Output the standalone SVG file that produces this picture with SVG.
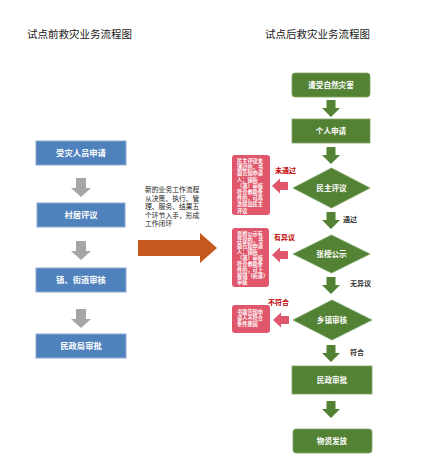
<svg xmlns="http://www.w3.org/2000/svg" xmlns:xlink="http://www.w3.org/1999/xlink" width="422" height="473" viewBox="0 0 422 473">
<style>
text{font-family:"Noto Sans CJK SC","Liberation Sans",sans-serif;}
.title{font-size:10.5px;fill:#1a1a1a;}
.blue{fill:#4F81BD;stroke:#8BAAD6;stroke-width:1;}
.bt{font-size:8.3px;font-weight:bold;fill:#fff;text-anchor:middle;}
.green{fill:#548235;stroke:#7FA463;stroke-width:0.8;}
.gt{font-size:7.6px;font-weight:bold;fill:#fff;text-anchor:middle;}
.callout{fill:#E0566B;}
.ct{font-size:10.4px;font-weight:bold;fill:#fff;}
.rl{font-size:7px;font-weight:bold;fill:#C00000;}
.dl{font-size:7px;font-weight:bold;fill:#333;}
.mt{font-size:6.8px;fill:#222;}
.garrow{fill:#A6A6A6;}
.grarrow{fill:#548235;}
.rarrow{fill:#E0566B;}
</style>
<defs>
<path id="gdown" d="M-5,0 H5 V10 H10 L0,19 L-10,10 H-5 Z"/>
<path id="grdown" d="M-4.5,0 H4.5 V8 H9 L0,17 L-9,8 H-4.5 Z"/>
<path id="rleft" d="M16,-4 V4 H8 V7.5 L0,0 L8,-7.5 V-4 Z"/>
</defs>

<text class="title" x="27" y="38">试点前救灾业务流程图</text>
<text class="title" x="265" y="38">试点后救灾业务流程图</text>

<g id="connectors">
  <use href="#gdown" class="garrow" x="81" y="178"/>
  <use href="#gdown" class="garrow" x="81" y="241"/>
  <use href="#gdown" class="garrow" x="81" y="309"/>
  <path d="M138,240 H200 V233 L217,248 L200,263 V256 H138 Z" fill="#C65A1E"/>
  <use href="#grdown" class="grarrow" x="331" y="100"/>
  <use href="#grdown" class="grarrow" x="331" y="147"/>
  <use href="#grdown" class="grarrow" x="331" y="212"/>
  <use href="#grdown" class="grarrow" x="331" y="277"/>
  <use href="#grdown" class="grarrow" x="331" y="345"/>
  <use href="#grdown" class="grarrow" x="331" y="401"/>
  <use href="#rleft" class="rarrow" x="272" y="186"/>
  <use href="#rleft" class="rarrow" x="272" y="255"/>
  <use href="#rleft" class="rarrow" x="273" y="320"/>
  <text class="dl" x="343" y="222">通过</text>
  <text class="dl" x="350" y="286">无异议</text>
  <text class="dl" x="350" y="355">符合</text>
  <text class="rl" x="275" y="173">未通过</text>
  <text class="rl" x="274" y="240">有异议</text>
  <text class="rl" x="268" y="305">不符合</text>
</g>

<g id="before-1"><rect class="blue" x="36" y="141" width="90" height="24"/><text class="bt" x="81" y="156">受灾人员申请</text></g>
<g id="before-2"><rect class="blue" x="37" y="203" width="88" height="24"/><text class="bt" x="81" y="218">村居评议</text></g>
<g id="before-3"><rect class="blue" x="36" y="268" width="90" height="24"/><text class="bt" x="81" y="283">镇、街道审核</text></g>
<g id="before-4"><rect class="blue" x="36" y="334" width="90" height="24"/><text class="bt" x="81" y="349">民政局审批</text></g>

<g id="note">
  <text class="mt" x="145" y="192">新的业务工作流程</text>
  <text class="mt" x="145" y="200.5">从决策、执行、管</text>
  <text class="mt" x="145" y="209">理、服务、结果五</text>
  <text class="mt" x="145" y="217.5">个环节入手，形成</text>
  <text class="mt" x="145" y="226">工作闭环</text>
</g>

<g id="after-1"><rect class="green" x="292" y="73" width="78" height="24" rx="3"/><text class="gt" x="331" y="88">遭受自然灾害</text></g>
<g id="after-2"><rect class="green" x="292" y="119" width="78" height="24"/><text class="gt" x="331" y="134">个人申请</text></g>
<g id="after-3"><polygon class="green" points="331.5,168 370,188 331.5,208 293,188"/><text class="gt" x="331.5" y="191">民主评议</text></g>
<g id="after-4"><polygon class="green" points="331.5,235 370,254 331.5,273 293,254"/><text class="gt" x="331.5" y="257">张榜公示</text></g>
<g id="after-5"><polygon class="green" points="332,300 372,320 332,340 293,320"/><text class="gt" x="332" y="323">乡镇审核</text></g>
<g id="after-6"><rect class="green" x="292" y="366" width="80" height="28"/><text class="gt" x="332" y="383">民政审批</text></g>
<g id="after-7"><rect class="green" x="293" y="429" width="79" height="24" rx="3"/><text class="gt" x="332" y="444">物资发放</text></g>

<g id="callout-1">
  <rect class="callout" x="232" y="155" width="38" height="60" rx="3"/>
  <g transform="scale(0.5)">
    <text class="ct" x="474" y="326">民主评议未</text>
    <text class="ct" x="474" y="338.4">通过的，书</text>
    <text class="ct" x="474" y="350.8">面告知申请</text>
    <text class="ct" x="474" y="363.2">人；镇街</text>
    <text class="ct" x="474" y="375.6">（道）审核</text>
    <text class="ct" x="474" y="388">符合救助条</text>
    <text class="ct" x="474" y="400.4">件的，可再</text>
    <text class="ct" x="474" y="412.8">次提出民主</text>
    <text class="ct" x="474" y="425.2">评议</text>
  </g>
</g>
<g id="callout-2">
  <rect class="callout" x="232" y="228" width="37" height="59" rx="3"/>
  <g transform="scale(0.5)">
    <text class="ct" x="474" y="472">张榜公示有</text>
    <text class="ct" x="474" y="484">异议的，书</text>
    <text class="ct" x="474" y="496">面告知申请</text>
    <text class="ct" x="474" y="508">人；镇街</text>
    <text class="ct" x="474" y="520">（道）审核</text>
    <text class="ct" x="474" y="532">符合救助条</text>
    <text class="ct" x="474" y="544">件的，可上</text>
    <text class="ct" x="474" y="556">报镇（街道）</text>
    <text class="ct" x="474" y="568">审核</text>
  </g>
</g>
<g id="callout-3">
  <rect class="callout" x="232" y="305" width="38" height="28" rx="3"/>
  <g transform="scale(0.5)">
    <text class="ct" x="474" y="628">书面告知申</text>
    <text class="ct" x="474" y="640">请人不符合</text>
    <text class="ct" x="474" y="652">条件原因</text>
  </g>
</g>
</svg>
